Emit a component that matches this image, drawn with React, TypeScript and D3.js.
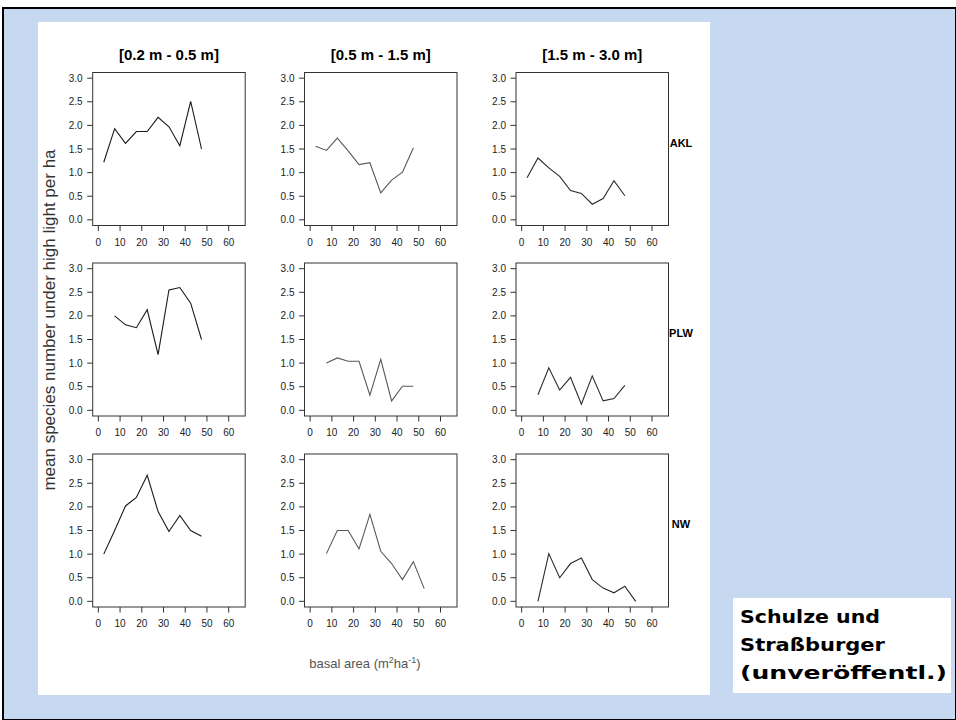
import React from "react";
import * as d3 from "d3";

const colTitles = ["[0.2 m - 0.5 m]", "[0.5 m - 1.5 m]", "[1.5 m - 3.0 m]"];
const rowLabels = ["AKL", "PLW", "NW"];
const xTicks = [0, 10, 20, 30, 40, 50, 60];
const yTicks = [0, 0.5, 1, 1.5, 2, 2.5, 3];

// basal-area class midpoints
const x10a = [2.5, 7.5, 12.5, 17.5, 22.5, 27.5, 32.5, 37.5, 42.5, 47.5];
const x9 = [7.5, 12.5, 17.5, 22.5, 27.5, 32.5, 37.5, 42.5, 47.5];
const x10b = [7.5, 12.5, 17.5, 22.5, 27.5, 32.5, 37.5, 42.5, 47.5, 52.5];

// AKL
const aklLow = [1.22, 1.93, 1.62, 1.87, 1.87, 2.17, 1.97, 1.57, 2.51, 1.5];
const aklMid = [1.56, 1.47, 1.73, 1.46, 1.17, 1.21, 0.57, 0.84, 1.01, 1.52];
const aklHigh = [0.89, 1.31, 1.1, 0.92, 0.62, 0.56, 0.33, 0.45, 0.83, 0.51];
// PLW
const plwLow = [2.0, 1.81, 1.75, 2.13, 1.18, 2.55, 2.6, 2.27, 1.5];
const plwMid = [1.0, 1.11, 1.04, 1.04, 0.32, 1.08, 0.2, 0.51, 0.51];
const plwHigh = [0.33, 0.9, 0.43, 0.7, 0.13, 0.73, 0.2, 0.25, 0.53];
// NW
const nwLow = [1.0, 1.5, 2.02, 2.2, 2.67, 1.9, 1.48, 1.82, 1.5, 1.38];
const nwMid = [1.01, 1.5, 1.5, 1.11, 1.84, 1.06, 0.8, 0.46, 0.84, 0.27];
const nwHigh = [0.0, 1.01, 0.5, 0.8, 0.92, 0.46, 0.28, 0.18, 0.32, 0.0];

const panels = [
  [{ x: x10a, y: aklLow }, { x: x10a, y: aklMid }, { x: x10a, y: aklHigh }],
  [{ x: x9, y: plwLow }, { x: x9, y: plwMid }, { x: x9, y: plwHigh }],
  [{ x: x10a, y: nwLow }, { x: x10b, y: nwMid }, { x: x10b, y: nwHigh }],
];

const colLeft = [92.7, 304.5, 516];
const rowTop = [72.5, 263, 454];
const PW = 152.5;
const PH = 153;
const lineColors = ["#1a1a1a", "#5a5a5a", "#2a2a2a"];
const font = "'Liberation Sans', Arial, sans-serif";

function Panel({ r, c }: { r: number; c: number }) {
  const left = colLeft[c];
  const top = rowTop[r];
  const xs = d3.scaleLinear().domain([-2.6, 67.6]).range([left, left + PW]);
  const ys = d3.scaleLinear().domain([-0.12, 3.12]).range([top + PH, top]);
  const d = panels[r][c];
  const pts: [number, number][] = d.x.map((xv, i) => [xs(xv), ys(d.y[i])]);
  const line = d3.line()(pts) || "";
  const bottom = top + PH;
  return (
    <g>
      <rect x={left} y={top} width={PW} height={PH} fill="none" stroke="#333" strokeWidth={1} />
      {yTicks.map((t) => (
        <g key={"y" + t}>
          <line x1={left - 5.5} x2={left} y1={ys(t)} y2={ys(t)} stroke="#333" />
          <text x={left - 10} y={ys(t)} dy="0.35em" textAnchor="end" fontSize={10} fill="#222" fontFamily={font}>
            {t.toFixed(1)}
          </text>
        </g>
      ))}
      {xTicks.map((t) => (
        <g key={"x" + t}>
          <line x1={xs(t)} x2={xs(t)} y1={bottom} y2={bottom + 5.5} stroke="#333" />
          <text x={xs(t)} y={bottom + 20} textAnchor="middle" fontSize={10} fill="#222" fontFamily={font}>
            {t}
          </text>
        </g>
      ))}
      <path d={line} fill="none" stroke={lineColors[c]} strokeWidth={1.1} />
    </g>
  );
}

export default function App() {
  return (
    <svg width={956} height={720} style={{ position: "absolute", left: 0, top: 0 }}>
      <rect x={0} y={0} width={956} height={720} fill="#ffffff" />
      <rect x={3} y={8} width={953} height={712} fill="#c6d9f0" stroke="#000" strokeWidth={2} />
      <rect x={38} y={22} width={672} height={673} fill="#ffffff" />
      {colTitles.map((t, c) => (
        <text key={t} x={colLeft[c] + PW / 2} y={60} textAnchor="middle" fontSize={15} fontWeight="bold" fontFamily={font} fill="#000">
          {t}
        </text>
      ))}
      {rowLabels.map((t, r) => (
        <text key={t} x={681} y={rowTop[r] + PH / 2 - 6} dy="0.35em" textAnchor="middle" fontSize={11} fontWeight="bold" fontFamily={font} fill="#000">
          {t}
        </text>
      ))}
      {[0, 1, 2].map((r) => [0, 1, 2].map((c) => <Panel key={r + "-" + c} r={r} c={c} />))}
      <text transform="translate(55,320) rotate(-90)" textAnchor="middle" fontSize={17} fill="#333" fontFamily={font}>
        mean species number under high light per ha
      </text>
      <text x={365} y={668} textAnchor="middle" fontSize={13} fill="#555" fontFamily={font}>
        basal area (m
        <tspan baselineShift="super" fontSize={9}>2</tspan>
        ha
        <tspan baselineShift="super" fontSize={9}>-1</tspan>)
      </text>
      <rect x={733} y={598} width={218} height={95} fill="#ffffff" />
      <g fontFamily="'Comic Sans MS', 'DejaVu Sans', sans-serif" fontWeight="bold" fontSize={17} fill="#000">
        <text x={740} y={623} textLength={140} lengthAdjust="spacingAndGlyphs">Schulze und</text>
        <text x={740} y={651} textLength={145} lengthAdjust="spacingAndGlyphs">Straßburger</text>
        <text x={740} y={679} textLength={207} lengthAdjust="spacingAndGlyphs">(unveröffentl.)</text>
      </g>
    </svg>
  );
}
